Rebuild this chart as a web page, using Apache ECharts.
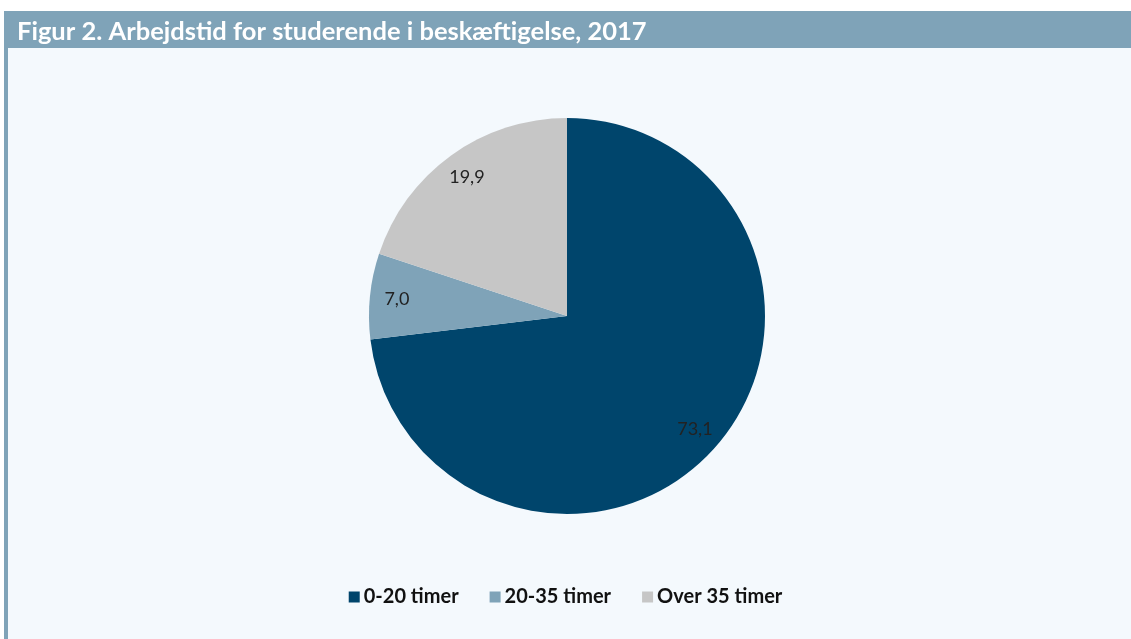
<!DOCTYPE html>
<html>
<head>
<meta charset="utf-8">
<script src="https://cdn.jsdelivr.net/npm/echarts@6/dist/echarts.min.js"></script>
<style>
  html, body { margin: 0; padding: 0; background: #ffffff; }
  #chart { width: 1131px; height: 639px; }
</style>
</head>
<body>
<div id="chart"></div>
<script>
// data
const categories = ['0-20 timer', '20-35 timer', 'Over 35 timer']
const shares = [73.1, 7.0, 19.9]
const colors = ['#00456c', '#7fa3b8', '#c6c6c6']

const pieData = categories.map((name, i) => ({
  name: name,
  value: shares[i],
  itemStyle: { color: colors[i] }
}))

const myChart = echarts.init(document.getElementById('chart'))
myChart.setOption({
  backgroundColor: '#ffffff',
  graphic: [
    // panel background
    { type: 'rect', shape: { x: 4, y: 48, width: 1127, height: 591 }, style: { fill: '#f4f9fd' }, silent: true, z: -10 },
    // title bar
    { type: 'rect', shape: { x: 4, y: 11, width: 1127, height: 37 }, style: { fill: '#7fa3b8' }, silent: true, z: -9 },
    // left border
    { type: 'rect', shape: { x: 4, y: 48, width: 4, height: 591 }, style: { fill: '#7fa3b8' }, silent: true, z: -9 }
  ],
  title: {
    text: 'Figur 2. Arbejdstid for studerende i beskæftigelse, 2017',
    left: 12,
    top: 14,
    textStyle: {
      color: '#ffffff',
      fontFamily: 'Lato',
      fontWeight: 'bold',
      fontSize: 25.5
    }
  },
  legend: {
    bottom: 27,
    left: 'center',
    icon: 'rect',
    itemWidth: 11,
    itemHeight: 11,
    itemGap: 31,
    data: categories,
    textStyle: {
      color: '#111111',
      fontFamily: 'Lato',
      fontWeight: 'bold',
      fontSize: 20,
      padding: [0, 0, 0, -1]
    }
  },
  series: [
    {
      name: 'slices',
      type: 'pie',
      center: [567, 316],
      radius: 198,
      startAngle: 90,
      clockwise: true,
      silent: true,
      label: { show: false },
      labelLine: { show: false },
      data: pieData
    },
    {
      // transparent ring used only to place the value labels near the rim
      name: 'labels',
      type: 'pie',
      center: [567, 316],
      radius: [136, 200],
      startAngle: 90,
      clockwise: true,
      silent: true,
      legendHoverLink: false,
      itemStyle: { color: 'rgba(0,0,0,0)' },
      label: {
        show: true,
        position: 'inside',
        color: '#222222',
        fontFamily: 'Lato',
        fontWeight: 'normal',
        fontSize: 18,
        formatter: (p) => p.value.toFixed(1).replace('.', ',')
      },
      labelLine: { show: false },
      data: categories.map((name, i) => ({ name: name, value: shares[i] }))
    }
  ]
})
</script>
</body>
</html>
